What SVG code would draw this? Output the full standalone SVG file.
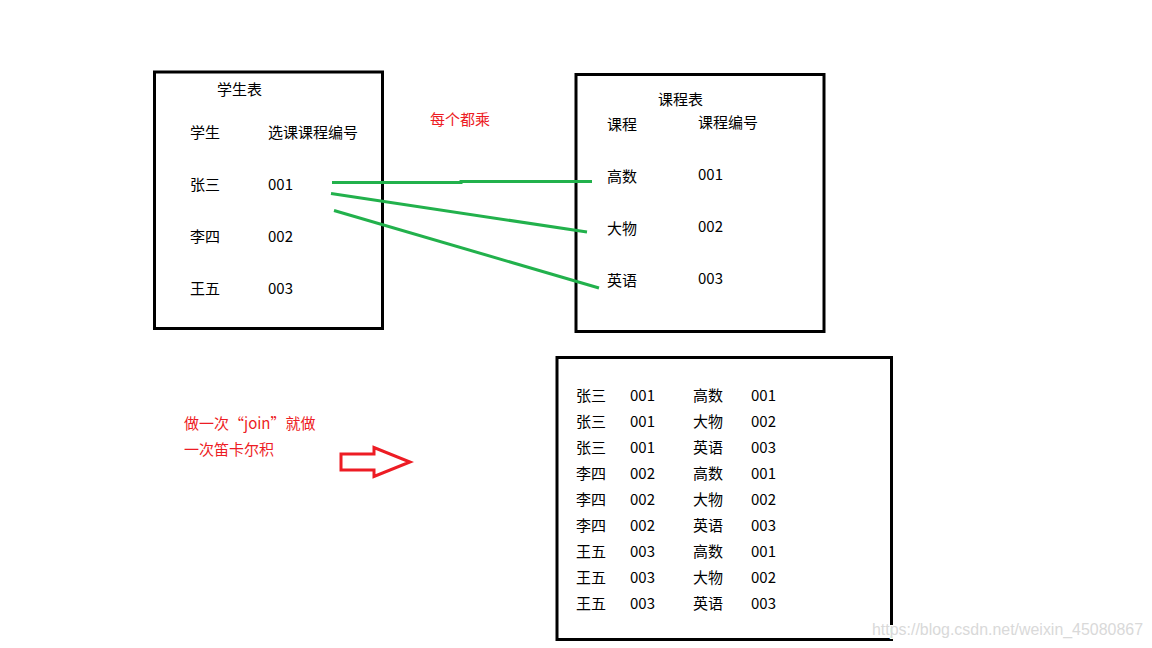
<svg xmlns="http://www.w3.org/2000/svg" width="1152" height="648" viewBox="0 0 1152 648">
<style>
.box{fill:none;stroke:#000;stroke-width:3}
.t{font-family:"Microsoft YaHei","Noto Sans CJK SC","Noto Sans",sans-serif;font-size:15px;fill:#000}
.r{font-family:"Microsoft YaHei","Noto Sans CJK SC","Noto Sans",sans-serif;font-size:15px;fill:#ed1c24}
.g{fill:none;stroke:#22b14c;stroke-width:3}
.wm{font-family:"Liberation Sans",Arial,sans-serif;font-size:16px;fill:#d9d9d9;stroke:#fff;stroke-width:2;paint-order:stroke}
</style>
<rect width="1152" height="648" fill="#fff"/>
<g id="student-table">
<rect class="box" x="154.5" y="72" width="228" height="256.5"/>
<text class="t" x="217" y="95">学生表</text>
<text class="t" x="190" y="138">学生</text>
<text class="t" x="268" y="138">选课课程编号</text>
<text class="t" x="190" y="190">张三</text>
<text class="t" x="268" y="190">001</text>
<text class="t" x="190" y="242">李四</text>
<text class="t" x="268" y="242">002</text>
<text class="t" x="190" y="294">王五</text>
<text class="t" x="268" y="294">003</text>
</g>
<g id="course-table">
<rect class="box" x="576" y="74.5" width="248" height="257"/>
<text class="t" x="658" y="105">课程表</text>
<text class="t" x="607" y="130">课程</text>
<text class="t" x="698" y="128">课程编号</text>
<text class="t" x="607" y="182">高数</text>
<text class="t" x="698" y="180">001</text>
<text class="t" x="607" y="234">大物</text>
<text class="t" x="698" y="232">002</text>
<text class="t" x="607" y="286">英语</text>
<text class="t" x="698" y="284">003</text>
</g>
<g id="connectors">
<polyline class="g" points="332,182.5 461,182.5 461,181.5 592,181.5"/>
<line class="g" x1="331" y1="193.5" x2="587" y2="232"/>
<line class="g" x1="334" y1="210.5" x2="599" y2="288"/>
</g>
<g id="note-each">
<text class="r" x="430" y="125">每个都乘</text>
</g>
<g id="note-join">
<text class="r" x="184" y="429">做一次“join”就做</text>
<text class="r" x="184" y="455">一次笛卡尔积</text>
</g>
<g id="arrow">
<polygon points="341,454 374,454 374,447.5 410,462 374,476.5 374,470 341,470" fill="none" stroke="#ed1c24" stroke-width="3"/>
</g>
<g id="result-table">
<rect class="box" x="557" y="357.5" width="334.5" height="282"/>
<g class="t">
<text x="576" y="401">张三</text><text x="630" y="401">001</text><text x="693" y="401">高数</text><text x="751" y="401">001</text>
<text x="576" y="427">张三</text><text x="630" y="427">001</text><text x="693" y="427">大物</text><text x="751" y="427">002</text>
<text x="576" y="453">张三</text><text x="630" y="453">001</text><text x="693" y="453">英语</text><text x="751" y="453">003</text>
<text x="576" y="479">李四</text><text x="630" y="479">002</text><text x="693" y="479">高数</text><text x="751" y="479">001</text>
<text x="576" y="505">李四</text><text x="630" y="505">002</text><text x="693" y="505">大物</text><text x="751" y="505">002</text>
<text x="576" y="531">李四</text><text x="630" y="531">002</text><text x="693" y="531">英语</text><text x="751" y="531">003</text>
<text x="576" y="557">王五</text><text x="630" y="557">003</text><text x="693" y="557">高数</text><text x="751" y="557">001</text>
<text x="576" y="583">王五</text><text x="630" y="583">003</text><text x="693" y="583">大物</text><text x="751" y="583">002</text>
<text x="576" y="609">王五</text><text x="630" y="609">003</text><text x="693" y="609">英语</text><text x="751" y="609">003</text>
</g>
</g>
<text class="wm" x="872" y="635" textLength="271" lengthAdjust="spacingAndGlyphs">https://blog.csdn.net/weixin_45080867</text>
</svg>
